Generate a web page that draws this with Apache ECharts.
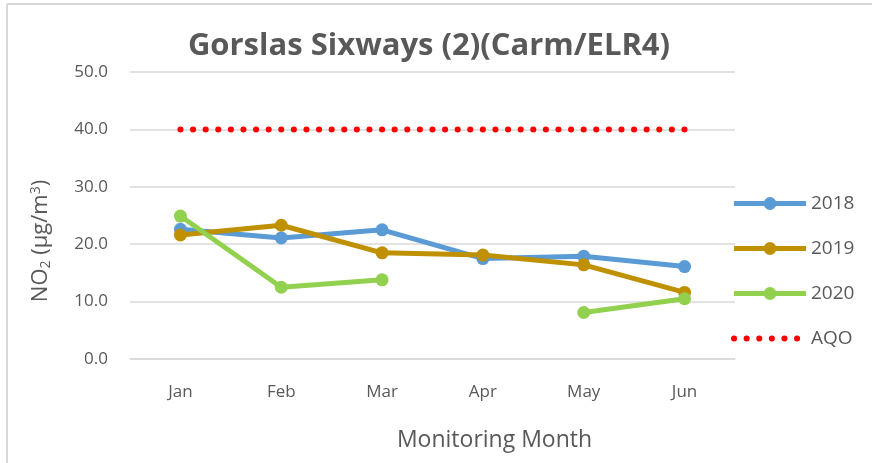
<!DOCTYPE html>
<html><head><meta charset="utf-8">
<script src="https://cdn.jsdelivr.net/npm/echarts@6/dist/echarts.min.js"></script>
<style>html,body{margin:0;padding:0;background:#fff}#c{width:872px;height:463px}</style>
</head><body><div id="c"></div>
<script>
const months = ['Jan','Feb','Mar','Apr','May','Jun'];
const s2018 = [22.6, 21.1, 22.5, 17.5, 17.9, 16.1];
const s2019 = [21.6, 23.3, 18.5, 18.1, 16.4, 11.6];
const s2020 = [24.9, 12.5, 13.8, null, 8.1, 10.5];
const aqo = [40, 40, 40, 40, 40, 40];
const yTicks = {min: 0, max: 50, interval: 10};

const font = 'Open Sans, Liberation Sans, sans-serif';
const grey = '#595959';
const chart = echarts.init(document.getElementById('c'), null, {renderer: 'canvas'});
function lineSeries(name, data, color) {
  return {
    name, type: 'line', data, symbol: 'circle', symbolSize: 13, connectNulls: false,
    lineStyle: {width: 5, color}, itemStyle: {color}, z: 3
  };
}
chart.setOption({
  animation: false,
  backgroundColor: '#fff',
  title: {
    text: 'Gorslas Sixways (2)(Carm/ELR4)', left: 424, top: 26, textAlign: 'center',
    textStyle: {fontFamily: font, fontSize: 31, fontWeight: 'bold', color: grey}
  },
  grid: {left: 130, right: 137, top: 72, bottom: 104},
  legend: {
    orient: 'vertical', left: 726, top: 189, itemWidth: 72, itemHeight: 16, itemGap: 26,
    textStyle: {fontFamily: font, fontSize: 19, color: grey},
    data: [
      {name: '2018', lineStyle: {width: 5}},
      {name: '2019', lineStyle: {width: 5}},
      {name: '2020', lineStyle: {width: 5}},
      {name: 'AQO', itemStyle: {opacity: 0}, lineStyle: {width: 6}}
    ]
  },
  xAxis: {
    type: 'category', data: months, boundaryGap: true,
    axisLine: {lineStyle: {color: '#d9d9d9', width: 1.5}}, axisTick: {show: false},
    axisLabel: {fontFamily: font, fontSize: 17, color: grey, margin: 25},
    name: 'Monitoring Month', nameLocation: 'middle', nameGap: 70,
    nameTextStyle: {fontFamily: font, fontSize: 23, color: grey, padding: [0, 0, 0, 124]}
  },
  yAxis: {
    type: 'value', min: yTicks.min, max: yTicks.max, interval: yTicks.interval,
    axisLine: {show: false}, axisTick: {show: false},
    splitLine: {lineStyle: {color: '#d9d9d9', width: 1.5}},
    axisLabel: {fontFamily: font, fontSize: 17, color: grey, margin: 22,
      formatter: v => v.toFixed(1)}
  },
  series: [
    lineSeries('2018', s2018, '#5b9bd5'),
    lineSeries('2019', s2019, '#bf9000'),
    lineSeries('2020', s2020, '#92d050'),
    {
      name: 'AQO', type: 'line', data: aqo, showSymbol: false, symbol: 'none',
      lineStyle: {width: 6, color: '#ff0000', type: [0.1, 12.5], cap: 'round'},
      itemStyle: {color: '#ff0000'}, z: 2
    }
  ],
  graphic: [
    {type: 'line', shape: {x1: 7, y1: 4, x2: 872, y2: 4}, style: {stroke: '#d9d9d9', lineWidth: 2}},
    {type: 'line', shape: {x1: 7, y1: 4, x2: 7, y2: 463}, style: {stroke: '#d9d9d9', lineWidth: 2}},
    {
      type: 'text', x: 41, y: 241, rotation: Math.PI / 2,
      style: {
        text: '{n|NO}{s|2}{n| (μg/m}{p|3}{n|)}', align: 'center', verticalAlign: 'middle',
        rich: {
          n: {fontFamily: font, fontSize: 22, fill: grey, color: grey},
          s: {fontFamily: font, fontSize: 14, fill: grey, color: grey, verticalAlign: 'bottom', padding: [10, 0, 0, 0]},
          p: {fontFamily: font, fontSize: 14, fill: grey, color: grey, verticalAlign: 'top', padding: [0, 0, 10, 0]}
        }
      }
    }
  ]
});
</script></body></html>
